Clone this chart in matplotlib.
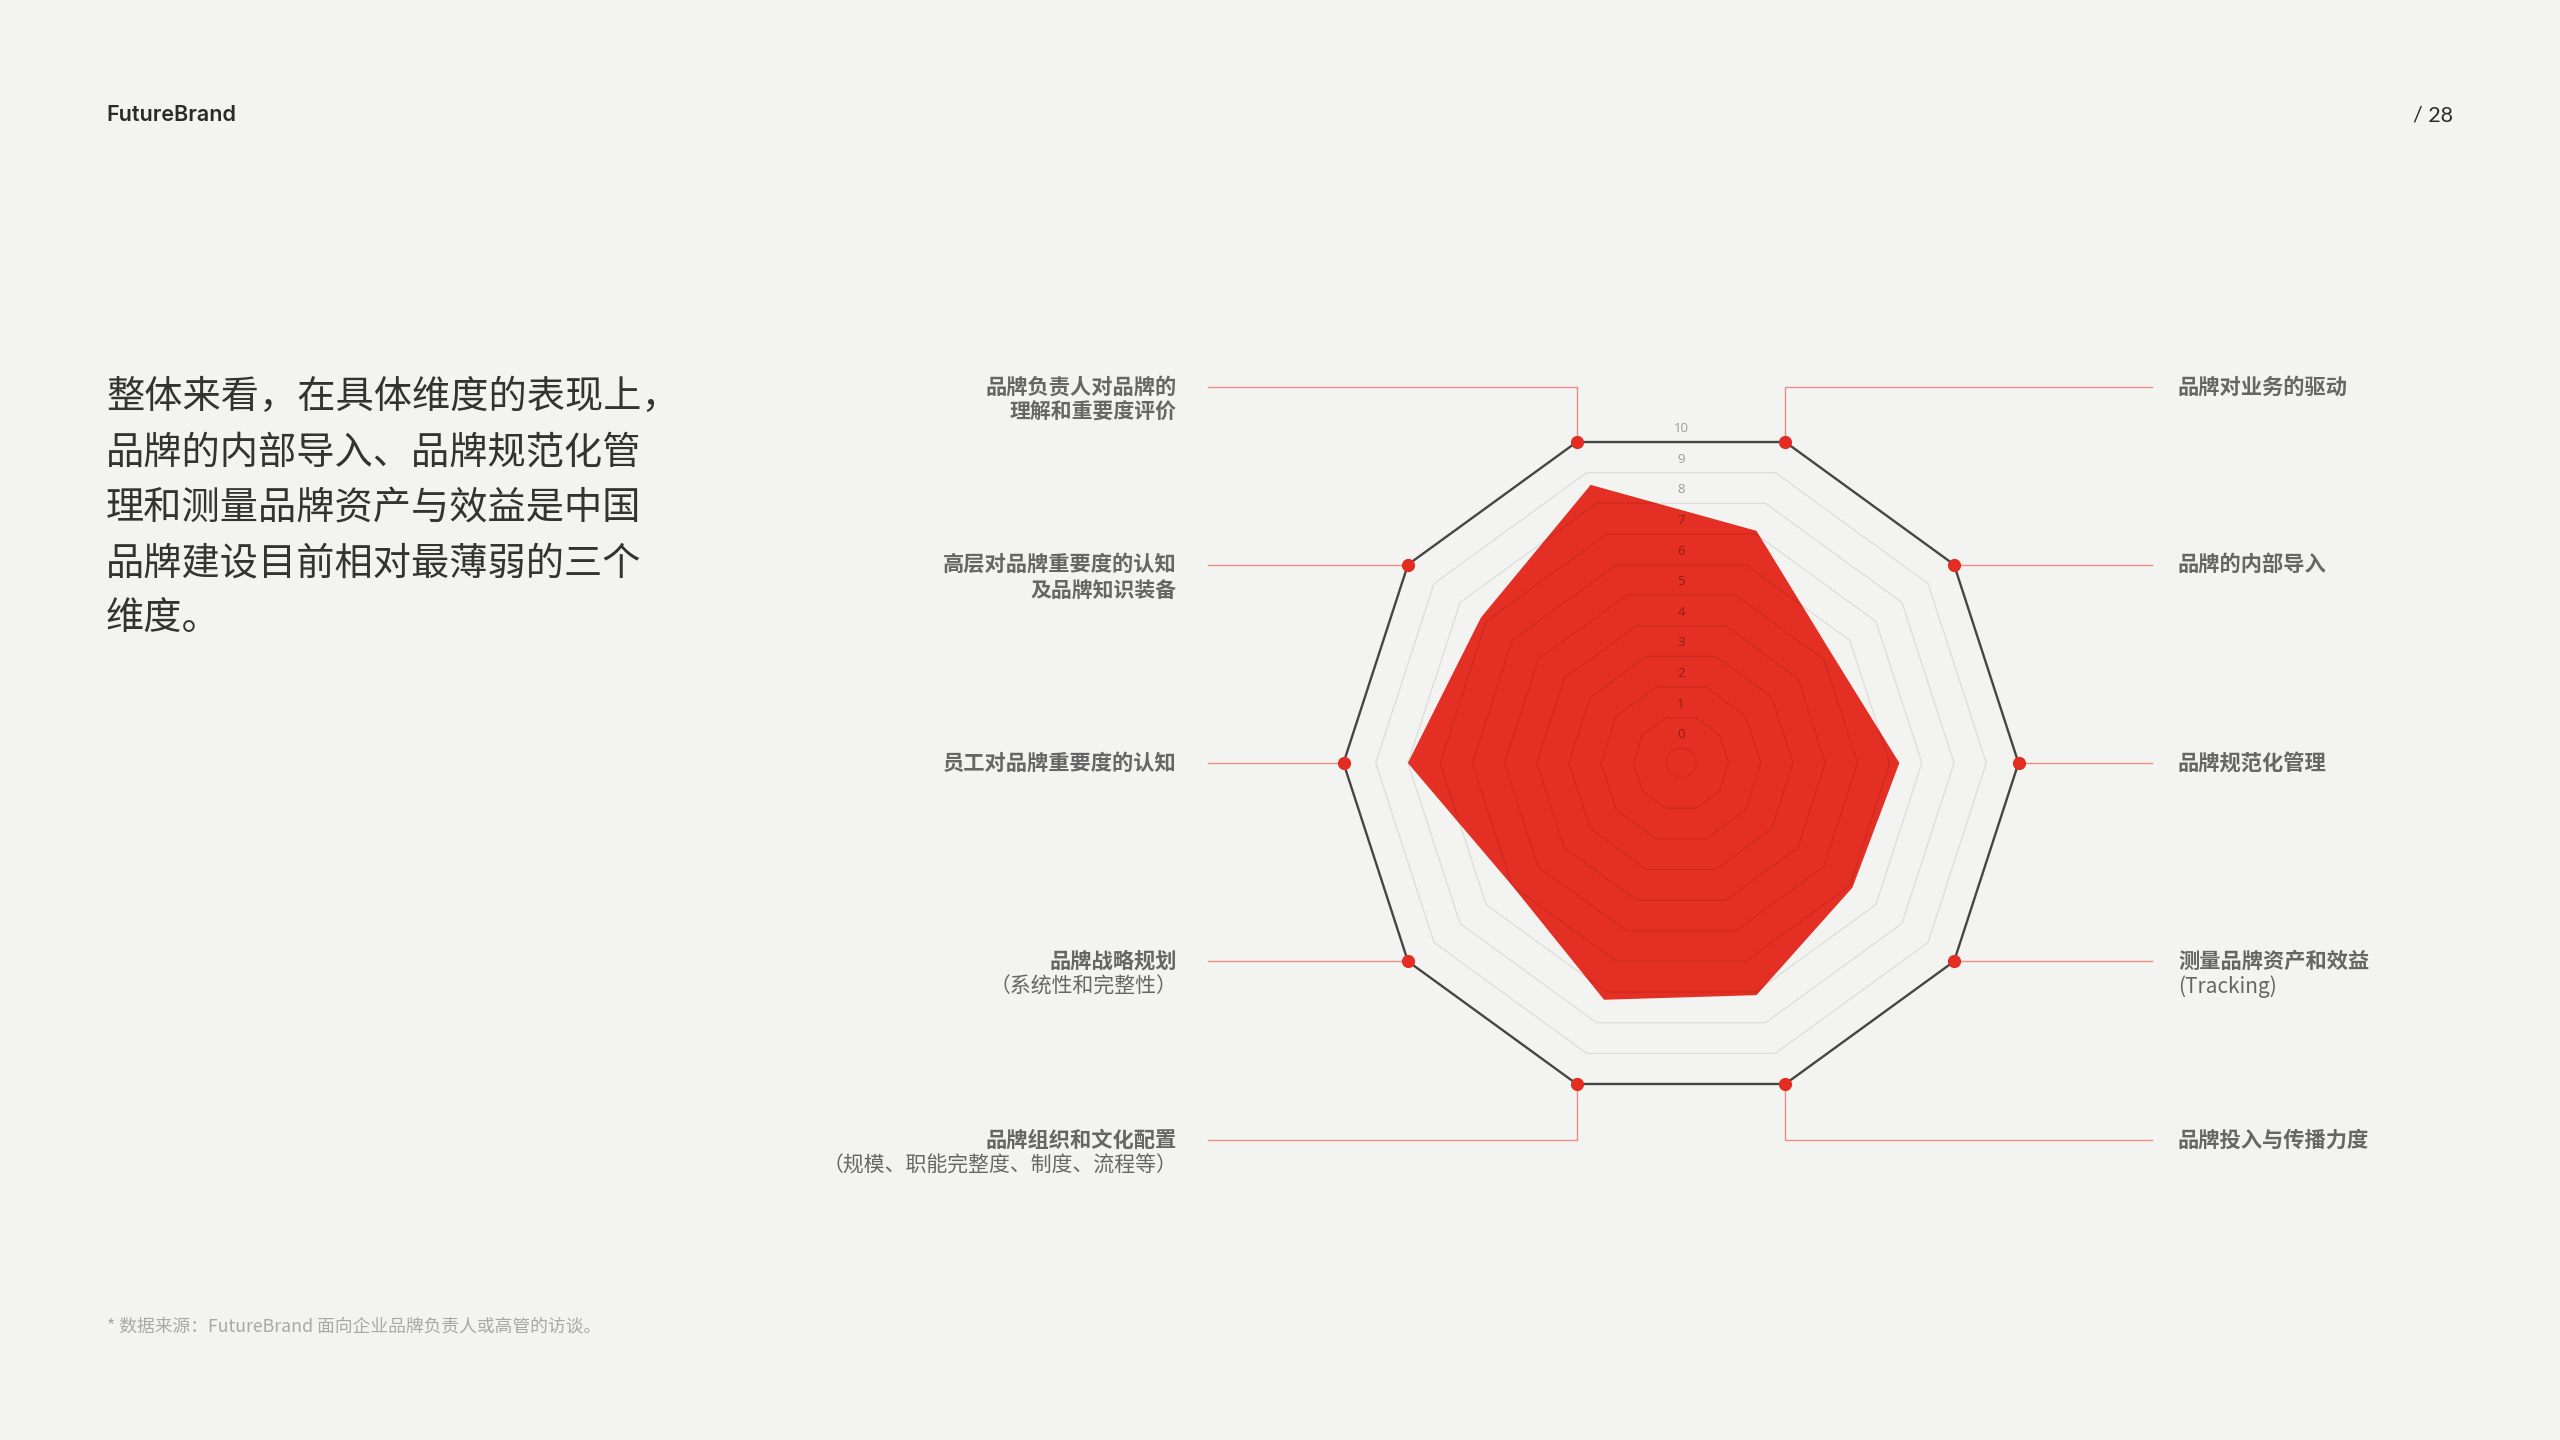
import numpy as np
import matplotlib
matplotlib.use("Agg")
import matplotlib.pyplot as plt
from matplotlib.lines import Line2D
from matplotlib import transforms

plt.rcParams['font.family'] = ['Noto Sans CJK SC', 'DejaVu Sans']

# ---------------- data ----------------
dimensions = [
    "品牌对业务的驱动",
    "品牌的内部导入",
    "品牌规范化管理",
    "测量品牌资产和效益",
    "品牌投入与传播力度",
    "品牌组织和文化配置",
    "品牌战略规划",
    "员工对品牌重要度的认知",
    "高层对品牌重要度的认知",
    "品牌负责人对品牌的",
]
second_lines = ["", "", "", "(Tracking)", "",
                "（规模、职能完整度、制度、流程等）", "（系统性和完整性）", "",
                "及品牌知识装备", "理解和重要度评价"]
second_bold = [False, False, False, False, False, False, False, False, True, True]
scores = [7.1, 5.3, 6.3, 6.1, 7.1, 7.25, 6.0, 8.0, 7.2, 8.6]
ring_levels = list(range(0, 11))
r_min, r_max = -0.48, 10

paragraph = ["整体来看，在具体维度的表现上，",
             "品牌的内部导入、品牌规范化管",
             "理和测量品牌资产与效益是中国",
             "品牌建设目前相对最薄弱的三个",
             "维度。"]
header = "FutureBrand"
page = "/ 28"
footnote = "* 数据来源：FutureBrand 面向企业品牌负责人或高管的访谈。"

# ---------------- style ----------------
W, H = 2560, 1440
BG = '#F3F3F1'
RED = '#E32D22'
FILL = '#E21E12'
LINE_RED = '#EE8B83'
LABEL_GRAY = '#666666'

fig = plt.figure(figsize=(W / 100, H / 100), dpi=100, facecolor=BG)


def fx(px):
    return px / W


def fy(py):
    return 1 - py / H


cx, cy, R = 1681, 763, 337.5
ax = fig.add_axes([fx(cx - R), fy(cy + R), 2 * R / W, 2 * R / H], projection='polar')
ax.set_theta_zero_location('N')
ax.set_theta_direction(-1)
ax.set_ylim(r_min, r_max)
ax.axis('off')

n = len(scores)
theta = np.deg2rad(18 + 36 * np.arange(n))
tc = np.append(theta, theta[0])
vals = np.append(scores, scores[0])

ax.fill(tc, vals, color=FILL, alpha=0.92, lw=0, zorder=2)
for k in ring_levels[:-1]:
    ax.plot(tc, np.full(n + 1, k), color='black', alpha=0.10, lw=0.8,
            zorder=3, clip_on=False)
ax.plot(tc, np.full(n + 1, ring_levels[-1]), color='#454545', lw=1.7,
        zorder=4, clip_on=False)
ax.plot(theta, np.full(n, ring_levels[-1]), 'o', color=RED, ms=9.5,
        mec='none', zorder=5, clip_on=False)

# ring value labels at top
cos18 = np.cos(np.deg2rad(18))
lab_tr = transforms.offset_copy(ax.transData, fig=fig, x=0, y=13.5, units='dots')
for k in ring_levels:
    r_text = (k - r_min) * cos18 + r_min
    ax.text(0, r_text, str(k), transform=lab_tr, ha='center', va='center',
            fontsize=9.5, family=['Open Sans', 'DejaVu Sans'], color='black',
            alpha=0.36, zorder=6, clip_on=False)

# connectors and labels
fig.canvas.draw()
pts = ax.transData.transform(np.column_stack([theta, np.full(n, ring_levels[-1])]))
x_right_end, x_left_end = 2152, 1208
x_right_text, x_left_text = 2178, 1177
for i in range(n):
    vx, vy = pts[i][0], H - pts[i][1]
    right = np.sin(theta[i]) > 0
    c = np.cos(theta[i])
    x_end = x_right_end if right else x_left_end
    if c > 0.9:
        ly = vy - 55
        xs, ys = [vx, vx, x_end], [vy, ly, ly]
    elif c < -0.9:
        ly = vy + 56
        xs, ys = [vx, vx, x_end], [vy, ly, ly]
    else:
        ly = vy
        xs, ys = [vx, x_end], [vy, vy]
    fig.add_artist(Line2D([fx(x) for x in xs], [fy(y) for y in ys],
                          color=LINE_RED, lw=1.0, zorder=-1))
    tx = x_right_text if right else x_left_text
    ha = 'left' if right else 'right'
    fig.text(fx(tx), fy(ly), dimensions[i], ha=ha, va='center', fontsize=15.3,
             fontweight='bold', color=LABEL_GRAY)
    if second_lines[i]:
        fig.text(fx(tx), fy(ly + 25.5), second_lines[i], ha=ha, va='center',
                 fontsize=15.0, fontweight='bold' if second_bold[i] else 'normal',
                 color=LABEL_GRAY)

# left paragraph
for j, line in enumerate(paragraph):
    fig.text(fx(106), fy(397 + 55.5 * j), line, ha='left', va='center',
             fontsize=27.5, color='#333333')

fig.text(fx(106), fy(115), header, ha='left', va='center', fontsize=15.5,
         fontweight='semibold', family=['Inter', 'Lato', 'DejaVu Sans'], color='#2a2a2a')
fig.text(fx(2453), fy(115), page, ha='right', va='center', fontsize=15.5,
         family=['Lato', 'DejaVu Sans'], color='#2a2a2a')
fig.text(fx(107), fy(1327), footnote, ha='left', va='center', fontsize=12.8,
         color='#A8A8A8')

fig.savefig('out.png', dpi=100, facecolor=BG)
